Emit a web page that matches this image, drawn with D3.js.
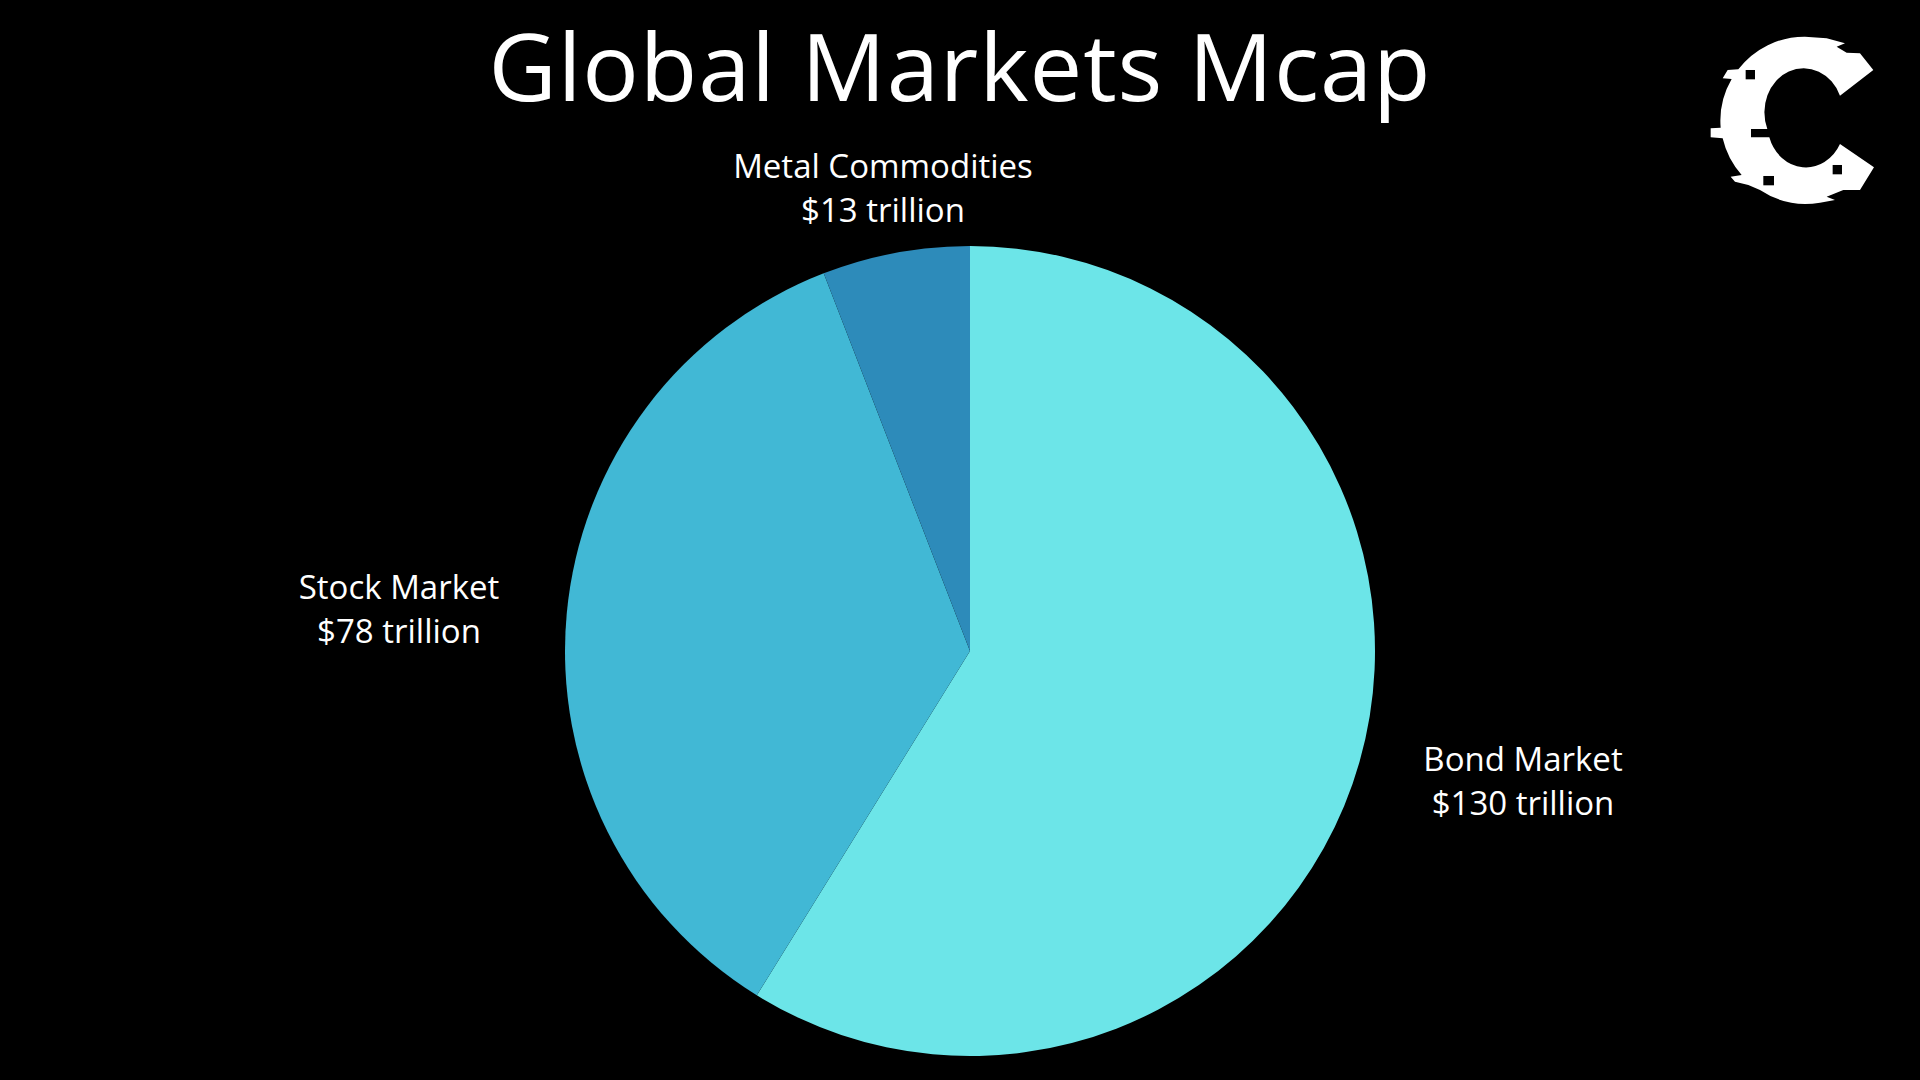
<!DOCTYPE html>
<html>
  <head>
    <meta charset="utf-8" />
    <title>Global Markets Mcap</title>
    <style>
      html, body { margin: 0; padding: 0; background: #000; overflow: hidden; }
      text { font-family: "Open Sans", Roboto, sans-serif; fill: #fff; text-anchor: middle; }
    </style>
  </head>
  <body>
    <script src="https://cdn.jsdelivr.net/npm/d3@7/dist/d3.min.js" charset="utf-8"></script>
    <script>
      const titleText = "Global Markets Mcap";
      const categories = ["Bond Market", "Stock Market", "Metal Commodities"];
      const values = [130, 78, 13];
      const valueLabels = ["$130 trillion", "$78 trillion", "$13 trillion"];
      const colors = ["#6ce5e8", "#41b8d5", "#2d8bba"];

      const width = 1920;
      const height = 1080;
      const cx = 970;
      const cy = 651;
      const radius = 405;
      // label anchors, relative to the pie centre (first line baseline)
      const labelPos = [[553, 120], [-571, -52], [-87, -473]];
      const labelGap = 44;

      const svg = d3
        .select("body")
        .append("svg")
        .attr("width", width)
        .attr("height", height)
        .style("display", "block");

      svg.append("text")
        .attr("x", 960)
        .attr("y", 101)
        .attr("font-size", 94)
        .attr("letter-spacing", 0.9)
        .text(titleText);

      const color = d3.scaleOrdinal().domain(categories).range(colors);
      const pie = d3.pie().value(d => d.value).sort(null);
      const arc = d3.arc().innerRadius(0).outerRadius(radius);
      const rows = categories.map((name, i) => ({ name, value: values[i], label: valueLabels[i] }));

      const g = svg.append("g").attr("transform", `translate(${cx},${cy})`);

      g.selectAll("path")
        .data(pie(rows))
        .join("path")
        .attr("d", arc)
        .attr("fill", d => color(d.data.name));

      const labels = g.selectAll("g.label")
        .data(rows)
        .join("g")
        .attr("class", "label")
        .attr("transform", (d, i) => `translate(${labelPos[i][0]},${labelPos[i][1]})`)
        .attr("font-size", 33);

      labels.append("text").text(d => d.name);
      labels.append("text").attr("y", labelGap).text(d => d.label);

      // logo in the top right corner
      const logo = svg.append("g").attr("transform", "translate(1680,10) scale(0.3333)");
      logo.append("path")
        .attr("fill", "#fff")
        .attr("d", "M375,80 L440,85 L495,100 L470,110 L500,128 L540,130 L580,180 L480,257 " +
          "A115,129 0 0 0 262,357 L213,357 L213,382 L268,382 " +
          "A115,129 0 0 0 480,402 L582,472 L540,540 L490,540 L440,560 L465,570 L420,578 " +
          "A250,250 0 0 1 240,540 L205,525 L165,515 L152,500 L185,495 " +
          "A250,250 0 0 1 128,385 L92,382 L92,355 L122,353 " +
          "A250,250 0 0 1 155,207 L128,205 L143,180 L175,178 " +
          "A250,250 0 0 1 375,80 Z");
      logo.selectAll("rect")
        .data([[197, 180, 28, 28], [250, 498, 32, 28], [458, 465, 28, 28]])
        .join("rect")
        .attr("x", d => d[0])
        .attr("y", d => d[1])
        .attr("width", d => d[2])
        .attr("height", d => d[3])
        .attr("fill", "#000");
    </script>
  </body>
</html>
